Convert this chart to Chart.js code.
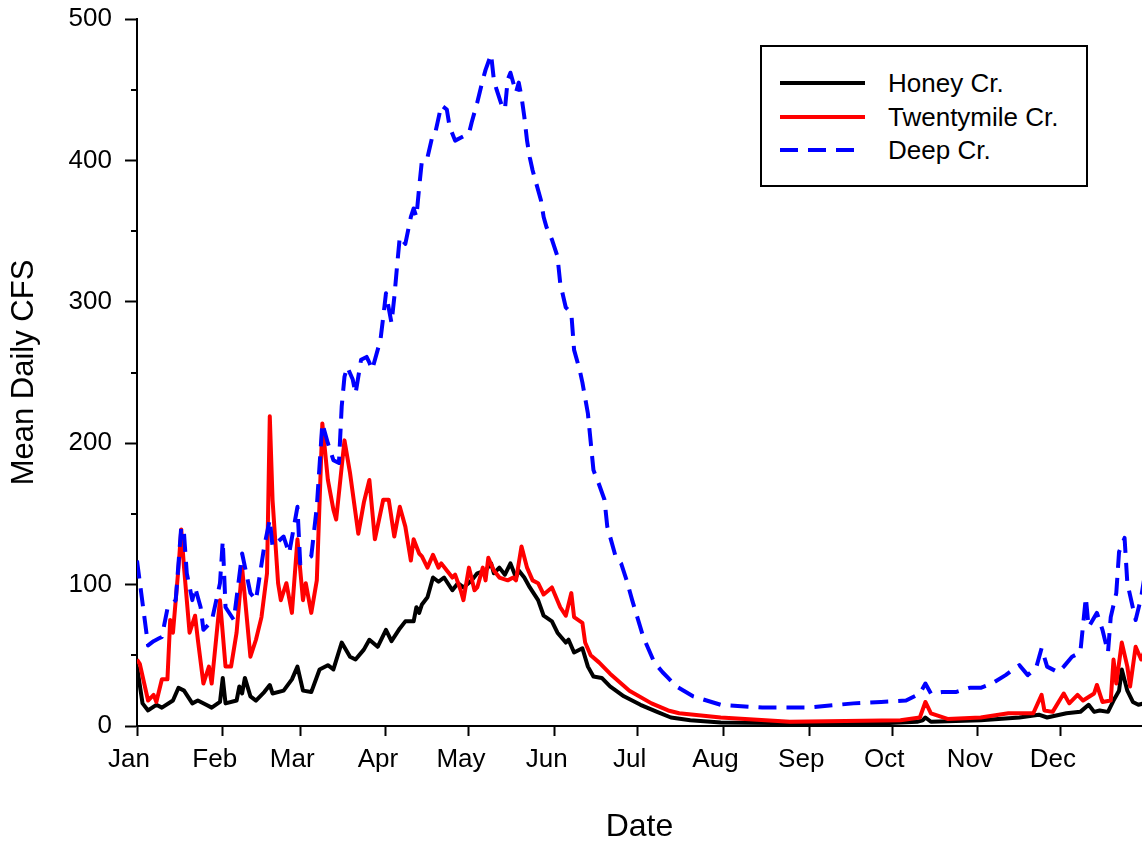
<!DOCTYPE html>
<html>
<head>
  <meta charset="UTF-8">
  <title>Mean Daily CFS</title>
  <script src="https://cdn.jsdelivr.net/npm/chart.js"></script>
  <style>
    body {
      margin: 0;
      background: #fff;
      font-family: 'Liberation Sans', Arial, sans-serif;
      overflow: hidden;
    }

    #wrap {
      position: relative;
      width: 1142px;
      height: 846px;
    }

    #legend {
      position: absolute;
      left: 760px;
      top: 45px;
      width: 328px;
      height: 142px;
      box-sizing: border-box;
      border: 2px solid #000;
      background: #fff;
    }

    .legend-line {
      position: absolute;
      left: 18px;
      width: 85px;
      height: 4px;
    }

    .legend-text {
      position: absolute;
      left: 126px;
      font-size: 26px;
      line-height: 30px;
      color: #000;
      white-space: nowrap;
    }
  </style>
</head>
<body>
  <div id="wrap">
    <canvas id="chart" width="1142" height="846"></canvas>
    <div id="legend"></div>
  </div>

  <script>
    const monthStarts = [0, 31, 59, 90, 120, 151, 181, 212, 243, 273, 304, 334];
    const monthLabels = ['Jan', 'Feb', 'Mar', 'Apr', 'May', 'Jun', 'Jul', 'Aug', 'Sep', 'Oct', 'Nov', 'Dec'];
    const yTicks = [0, 100, 200, 300, 400, 500];
    const yMinorTicks = [50, 150, 250, 350, 450];

    const seriesNames = ['Honey Cr.', 'Twentymile Cr.', 'Deep Cr.'];

    // day of year -> mean daily cfs
    const honeyDays = [0,2,4,7,9,13,15,17,20,22,25,27,30,31,32,36,37,38,39,41,43,46,48,49,53,56,58,60,63,66,69,71,74,77,79,82,84,87,90,92,95,97,100,101,102,103,105,107,109,111,114,116,118,121,123,126,128,129,131,133,135,137,138,140,142,145,147,150,152,155,156,158,161,163,165,168,171,176,182,188,193,200,211,240,270,282,284,285,287,305,319,326,329,336,341,344,346,348,351,353,355,356,358,360,362,364];
    const honeyCfs = [42,16,11,15,13,18,27,25,16,18,15,13,17,34,16,18,28,23,34,21,18,24,29,23,25,33,42,25,24,40,43,40,59,49,47,54,61,56,68,60,69,74,74,84,80,86,91,105,102,105,96,101,98,103,108,110,115,108,112,107,115,105,110,105,98,89,78,74,66,59,61,52,55,42,35,34,28,21,15,10,6,4,2.5,2,2,3,4,6,3,4,6,8,6,9,10,15,10,11,10,18,25,40,25,17,15,16];

    const twentyDays = [0,1,4,6,7,9,11,12,13,15,16,17,19,21,22,24,26,27,30,32,34,36,38,41,43,45,47,48,49,51,52,54,56,58,60,61,63,65,67,69,71,72,75,77,80,82,84,86,89,91,93,95,97,99,100,102,103,105,107,109,110,112,114,115,117,118,120,122,123,125,126,127,129,131,134,136,137,139,141,143,145,147,150,153,155,157,158,161,162,164,167,171,178,186,192,196,211,236,276,283,285,287,293,305,315,324,327,328,331,335,337,340,342,346,347,349,352,353,354,356,358,359,361,363,364];
    const twentyCfs = [47,44,18,22,17,33,33,75,66,112,139,112,66,78,61,30,42,30,89,42,42,66,112,49,61,77,108,219,160,101,89,101,80,132,89,101,80,103,214,174,153,146,202,179,136,158,174,132,160,160,134,155,141,117,132,122,120,112,121,112,115,110,105,107,96,89,112,96,98,112,103,119,110,105,103,105,103,127,112,103,101,93,98,84,78,94,77,73,59,50,45,37,25,16,11,9,6,3,4,6,17,9,5,6,9,9,22,11,10,23,16,22,18,23,29,17,18,47,30,59,42,28,56,47,52];

    const deepDays = [0,4,6,8,9,11,14,16,17,18,20,21,23,24,27,30,31,32,35,38,41,43,46,48,49,53,55,58,59,63,65,67,69,71,73,74,75,76,78,79,81,83,84,85,88,89,90,92,93,94,95,97,99,100,101,102,103,105,107,108,110,112,113,115,117,120,121,123,125,126,128,129,130,132,133,134,135,137,138,139,140,141,142,143,146,147,148,150,152,153,155,157,158,160,161,163,164,165,167,169,170,173,175,177,179,183,187,190,192,195,201,211,226,242,259,269,278,283,285,287,291,296,301,305,309,314,319,322,325,327,329,333,335,338,341,343,344,347,349,351,352,354,355,357,358,361,363,364];
    const deepCfs = [117,57,60,62,63,83,89,141,136,108,89,98,84,68,74,101,131,84,75,122,94,89,127,146,127,134,122,155,115,120,155,214,200,188,186,226,247,254,245,235,259,261,257,252,273,289,306,285,303,325,346,341,360,366,360,381,400,402,419,421,439,436,424,414,416,419,427,441,457,464,475,457,450,438,436,457,462,448,455,445,431,414,402,393,372,360,353,344,332,313,296,292,266,252,243,221,201,181,171,160,141,120,115,103,89,63,45,38,34,28,21,15,13,13,16,17,18,23,30,23,24,24,27,27,30,36,43,36,41,55,42,38,42,49,52,91,70,80,68,52,77,94,123,133,101,75,91,103];

    const toPoints = (days, vals) => days.map((d, i) => ({ x: d, y: vals[i] }));

    const lineStyles = [
      { color: '#000000', dash: [] },
      { color: '#ff0000', dash: [] },
      { color: '#0000ff', dash: [18, 10] }
    ];

    Chart.defaults.font.family = "'Liberation Sans', Arial, sans-serif";
    Chart.defaults.color = '#000';

    // small ticks between the labelled y ticks
    const minorTicks = {
      id: 'minorTicks',
      afterDraw(chart) {
        const y = chart.scales.y;
        const ctx = chart.ctx;
        ctx.save();
        ctx.strokeStyle = '#000';
        ctx.lineWidth = 2;
        yMinorTicks.forEach(v => {
          const py = Math.round(y.getPixelForValue(v));
          ctx.beginPath();
          ctx.moveTo(y.right - 6, py);
          ctx.lineTo(y.right, py);
          ctx.stroke();
        });
        ctx.restore();
      }
    };

    const axisGrid = {
      drawOnChartArea: false,
      drawTicks: true,
      tickWidth: 2,
      tickColor: '#000'
    };

    new Chart(document.getElementById('chart'), {
      type: 'line',
      data: {
        datasets: [
          {
            label: seriesNames[0],
            data: toPoints(honeyDays, honeyCfs),
            borderColor: lineStyles[0].color,
            borderDash: lineStyles[0].dash,
            order: 2
          },
          {
            label: seriesNames[1],
            data: toPoints(twentyDays, twentyCfs),
            borderColor: lineStyles[1].color,
            borderDash: lineStyles[1].dash,
            order: 1
          },
          {
            label: seriesNames[2],
            data: toPoints(deepDays, deepCfs),
            borderColor: lineStyles[2].color,
            borderDash: lineStyles[2].dash,
            order: 0
          }
        ]
      },
      options: {
        responsive: false,
        animation: false,
        layout: { padding: { top: 19, right: 0, bottom: 0, left: 0 } },
        elements: {
          point: { radius: 0 },
          line: { borderWidth: 4, tension: 0, fill: false, borderJoinStyle: 'round' }
        },
        plugins: {
          legend: { display: false },
          tooltip: { enabled: false }
        },
        scales: {
          x: {
            type: 'linear',
            min: 0,
            max: 363.3,
            afterBuildTicks: s => { s.ticks = monthStarts.map(v => ({ value: v })); },
            afterFit: s => { s.height = 120; },
            grid: { ...axisGrid, tickLength: 10 },
            border: { color: '#000', width: 2 },
            ticks: {
              font: { size: 26 },
              padding: 8,
              labelOffset: -8,
              maxRotation: 0,
              autoSkip: false,
              callback: v => monthLabels[monthStarts.indexOf(v)]
            },
            title: { display: true, text: 'Date', font: { size: 32 }, padding: 0 }
          },
          y: {
            min: 0,
            max: 500,
            afterBuildTicks: s => { s.ticks = yTicks.map(v => ({ value: v })); },
            afterFit: s => { s.width = 137; s.paddingTop = 0; s.paddingBottom = 0; },
            grid: { ...axisGrid, tickLength: 12 },
            border: { color: '#000', width: 2 },
            ticks: { font: { size: 26 }, padding: 13 },
            title: { display: true, text: 'Mean Daily CFS', font: { size: 31 }, padding: { top: 6, bottom: 0 } }
          }
        }
      },
      plugins: [minorTicks]
    });

    // legend box, top right
    const legend = document.getElementById('legend');
    const rowCenters = [36, 70, 103];
    seriesNames.forEach((name, i) => {
      const line = document.createElement('div');
      line.className = 'legend-line';
      line.style.top = (rowCenters[i] - 2) + 'px';
      if (lineStyles[i].dash.length) {
        const [on, off] = lineStyles[i].dash;
        line.style.width = (3 * on + 2 * off) + 'px';
        line.style.background = `repeating-linear-gradient(90deg, ${lineStyles[i].color} 0 ${on}px, transparent ${on}px ${on + off}px)`;
      } else {
        line.style.background = lineStyles[i].color;
      }
      const text = document.createElement('div');
      text.className = 'legend-text';
      text.style.top = (rowCenters[i] - 15) + 'px';
      text.textContent = name;
      legend.appendChild(line);
      legend.appendChild(text);
    });
  </script>
</body>
</html>
